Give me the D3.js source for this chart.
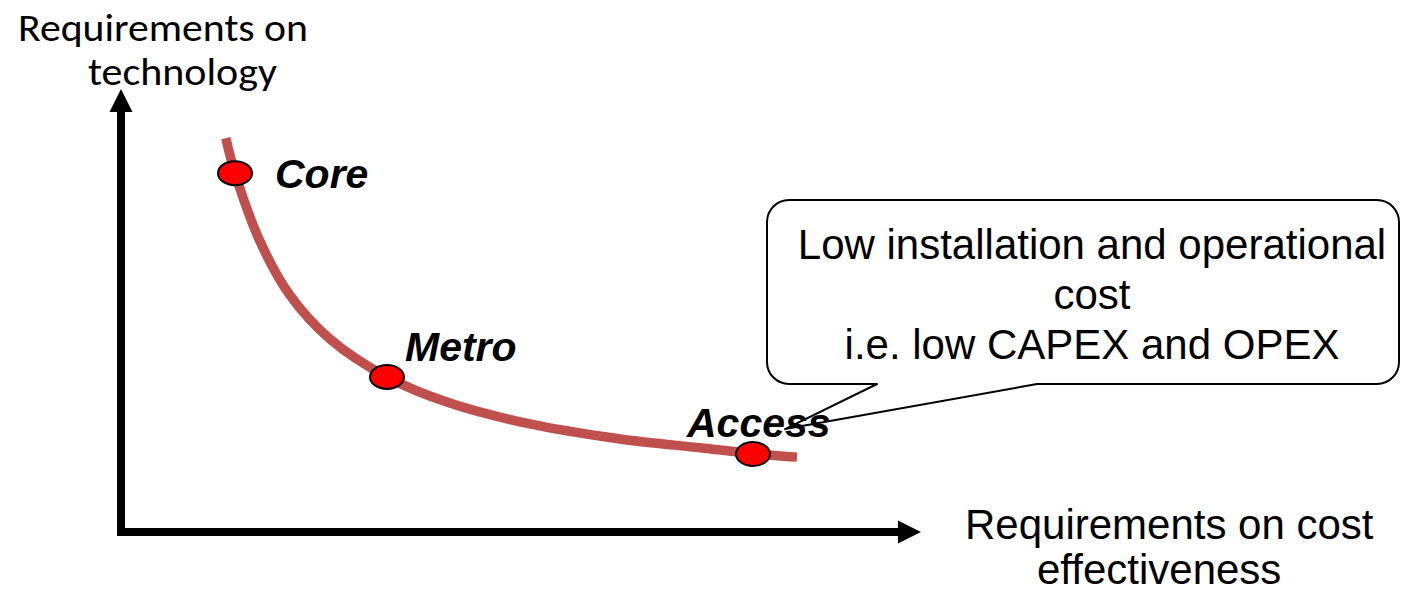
<!DOCTYPE html>
<html>
<head>
<meta charset="utf-8">
<script src="https://cdn.jsdelivr.net/npm/d3@7"></script>
<style>
  html, body { margin: 0; padding: 0; background: #ffffff; }
  svg { display: block; }
</style>
</head>
<body>
<svg id="chart" width="1401" height="593"></svg>
<script>
// Trade-off curve: requirements on technology vs. requirements on cost effectiveness
const curveX = [13.1, 14.25, 17.4, 21.1, 26.1, 33.25, 41.1, 51.1, 62.4, 72.4, 79.0, 84.5];
const curveY = [88.9, 81.0, 65.5, 53.5, 43.6, 35.0, 29.1, 24.4, 21.0, 19.0, 17.7, 16.9];

const segmentNames = ["Core", "Metro", "Access"];
const segmentX = [14.25, 33.25, 79.0];
const segmentY = [81.0, 35.0, 17.6];

const yAxisLabel = ["Requirements on", "technology"];
const xAxisLabel = ["Requirements on cost", "effectiveness"];
const calloutLines = ["Low installation and operational", "cost", "i.e. low CAPEX and OPEX"];

const W = 1401, H = 593;
const svg = d3.select("#chart");

const x = d3.scaleLinear().domain([0, 100]).range([121, 921]);
const y = d3.scaleLinear().domain([0, 100]).range([532, 89]);

const axisW = 8, headLen = 23, headHalf = 11.5;

// ---- axes with arrowheads ----
const gAxes = svg.append("g");
gAxes.append("line")
  .attr("x1", x(0)).attr("y1", y(0) + axisW / 2)
  .attr("x2", x(0)).attr("y2", y(100) + headLen)
  .attr("stroke", "#000").attr("stroke-width", axisW);
gAxes.append("path")
  .attr("d", `M${x(0)},${y(100)} L${x(0) - headHalf},${y(100) + headLen} L${x(0) + headHalf},${y(100) + headLen} Z`)
  .attr("fill", "#000");
gAxes.append("line")
  .attr("x1", x(0) - axisW / 2).attr("y1", y(0))
  .attr("x2", x(100) - headLen).attr("y2", y(0))
  .attr("stroke", "#000").attr("stroke-width", axisW);
gAxes.append("path")
  .attr("d", `M${x(100)},${y(0)} L${x(100) - headLen},${y(0) - headHalf} L${x(100) - headLen},${y(0) + headHalf} Z`)
  .attr("fill", "#000");

// ---- axis titles ----
const yLab = svg.append("g")
  .attr("font-family", "Carlito, Calibri, Lato, sans-serif")
  .attr("font-size", 38).attr("fill", "#000");
yLab.append("text").attr("x", 18).attr("y", 41).attr("textLength", 290)
  .attr("lengthAdjust", "spacingAndGlyphs").text(yAxisLabel[0]);
yLab.append("text").attr("x", 88).attr("y", 85).attr("textLength", 189)
  .attr("lengthAdjust", "spacingAndGlyphs").text(yAxisLabel[1]);

const xLab = svg.append("g")
  .attr("font-family", "Arial, 'Liberation Sans', sans-serif")
  .attr("font-size", 42).attr("fill", "#000");
xLab.append("text").attr("x", 965).attr("y", 539).text(xAxisLabel[0]);
xLab.append("text").attr("x", 1037).attr("y", 584).text(xAxisLabel[1]);

// ---- callout (fill first, outline drawn above the labels) ----
const accessPt = [x(segmentX[2]), y(segmentY[2])];
const box = { x0: 767, y0: 200, x1: 1399, y1: 384, r: 22, pL: 877, pR: 1037 };
const tip = [accessPt[0] + 32, accessPt[1] - 25];
const calloutPath = `M${box.x0 + box.r},${box.y0} H${box.x1 - box.r}
  A${box.r},${box.r} 0 0 1 ${box.x1},${box.y0 + box.r} V${box.y1 - box.r}
  A${box.r},${box.r} 0 0 1 ${box.x1 - box.r},${box.y1} H${box.pR}
  L${tip[0]},${tip[1]} L${box.pL},${box.y1} H${box.x0 + box.r}
  A${box.r},${box.r} 0 0 1 ${box.x0},${box.y1 - box.r} V${box.y0 + box.r}
  A${box.r},${box.r} 0 0 1 ${box.x0 + box.r},${box.y0} Z`;
svg.append("path").attr("d", calloutPath).attr("fill", "#fff").attr("stroke", "none");

// ---- trade-off curve ----
const pts = curveX.map((v, i) => [v, curveY[i]]);
const line = d3.line().x(d => x(d[0])).y(d => y(d[1])).curve(d3.curveCatmullRom.alpha(0.5));
svg.append("path")
  .attr("d", line(pts))
  .attr("fill", "none")
  .attr("stroke", "#C0504D")
  .attr("stroke-width", 9.5);

// ---- segment markers and labels ----
const labelOffset = { Core: [40, 15], Metro: [18, -16], Access: [-66, -17] };
const segs = segmentNames.map((n, i) => ({ name: n, cx: x(segmentX[i]), cy: y(segmentY[i]) }));
svg.append("g").selectAll("ellipse").data(segs).join("ellipse")
  .attr("cx", d => d.cx).attr("cy", d => d.cy)
  .attr("rx", 17).attr("ry", 12)
  .attr("fill", "#FF0000").attr("stroke", "#000").attr("stroke-width", 2);
svg.append("g").selectAll("text").data(segs).join("text")
  .attr("x", d => d.cx + labelOffset[d.name][0])
  .attr("y", d => d.cy + labelOffset[d.name][1])
  .attr("font-family", "Arial, 'Liberation Sans', sans-serif")
  .attr("font-size", 41).attr("font-weight", "bold").attr("font-style", "italic")
  .attr("fill", "#000")
  .text(d => d.name);

// ---- callout outline and text ----
svg.append("path").attr("d", calloutPath).attr("fill", "none")
  .attr("stroke", "#000").attr("stroke-width", 2).attr("stroke-linejoin", "round");
svg.append("g").selectAll("text").data(calloutLines).join("text")
  .attr("x", 1092).attr("y", (d, i) => 259 + i * 50)
  .attr("text-anchor", "middle")
  .attr("font-family", "Arial, 'Liberation Sans', sans-serif")
  .attr("font-size", 42).attr("fill", "#000")
  .text(d => d);
</script>
</body>
</html>
